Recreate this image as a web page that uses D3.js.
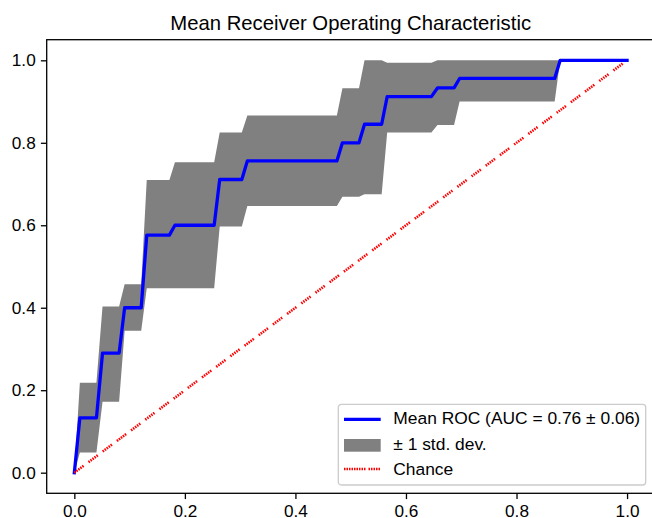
<!DOCTYPE html>
<html>
<head>
<meta charset="utf-8">
<script src="https://cdn.jsdelivr.net/npm/d3@7/dist/d3.min.js"></script>
<style>
  body { margin: 0; background: #fff; }
  svg text { font-family: "Liberation Sans", Arial, sans-serif; fill: #000; }
</style>
</head>
<body>
<div id="chart"></div>
<script>
// values (fpr grid breakpoints)
const fprPoints = [0, 0.010, 0.040, 0.051, 0.081, 0.091, 0.121, 0.131, 0.172, 0.182,
  0.253, 0.263, 0.303, 0.313, 0.475, 0.485, 0.515, 0.525, 0.556, 0.566,
  0.646, 0.657, 0.687, 0.697, 0.869, 0.879, 1.0];
const meanTpr = [0, 0.133, 0.133, 0.290, 0.290, 0.400, 0.400, 0.576, 0.576, 0.600,
  0.600, 0.711, 0.711, 0.756, 0.756, 0.800, 0.800, 0.845, 0.845, 0.912,
  0.912, 0.933, 0.933, 0.956, 0.956, 1.0, 1.0];
const upperTpr = [0, 0.218, 0.218, 0.403, 0.403, 0.457, 0.457, 0.710, 0.710, 0.753,
  0.753, 0.825, 0.825, 0.866, 0.866, 0.932, 0.932, 1.0, 1.0, 0.994,
  0.994, 1.0, 1.0, 1.0, 1.0, 1.0, 1.0];
const lowerTpr = [0, 0.049, 0.049, 0.172, 0.172, 0.344, 0.344, 0.447, 0.447, 0.447,
  0.447, 0.597, 0.597, 0.647, 0.647, 0.669, 0.669, 0.675, 0.675, 0.825,
  0.825, 0.843, 0.843, 0.900, 0.900, 1.0, 1.0];
const chanceX = [0, 1];
const chanceY = [0, 1];
const xTicks = [0, 0.2, 0.4, 0.6, 0.8, 1.0];
const yTicks = [0, 0.2, 0.4, 0.6, 0.8, 1.0];
const legendLabels = ["Mean ROC (AUC = 0.76 \u00b1 0.06)", "\u00b1 1 std. dev.", "Chance"];
const chartTitle = "Mean Receiver Operating Characteristic";

const margin = { top: 39.7, left: 46.7 };
const width = 608;
const height = 453.6;

const xScale = d3.scaleLinear().domain([-0.05, 1.05]).range([0, width]);
const yScale = d3.scaleLinear().domain([-0.05, 1.05]).range([height, 0]);

const svg = d3
  .select("#chart")
  .append("svg")
  .attr("width", 652)
  .attr("height", 518);

const g = svg
  .append("g")
  .attr("transform", "translate(" + margin.left + "," + margin.top + ")");

const meanData = fprPoints.map((x, i) => ({ x, y: meanTpr[i], lo: lowerTpr[i], hi: upperTpr[i] }));
const chanceData = chanceX.map((x, i) => ({ x, y: chanceY[i] }));

// std band

const area = d3
  .area()
  .x(d => xScale(d.x))
  .y0(d => yScale(d.lo))
  .y1(d => yScale(d.hi));

g.append("path")
  .datum(meanData)
  .attr("fill", "#808080")
  .attr("d", area);

// mean line

const line = d3
  .line()
  .x(d => xScale(d.x))
  .y(d => yScale(d.y));

g.append("path")
  .datum(meanData)
  .attr("fill", "none")
  .attr("stroke", "#0000ff")
  .attr("stroke-width", 3.3)
  .attr("stroke-linejoin", "round")
  .attr("stroke-linecap", "square")
  .attr("d", line);

// chance line

const chanceDash = "1.5,1,1.5,1,1.5,1,1.5,1,1.5,6.2";

g.append("path")
  .datum(chanceData)
  .attr("fill", "none")
  .attr("stroke", "#ff0000")
  .attr("stroke-width", 2.6)
  .attr("stroke-dasharray", chanceDash)
  .attr("d", line);

// axes

const xAxis = d3.axisBottom(xScale).tickValues(xTicks).tickFormat(d3.format(".1f")).tickSize(5.8).tickPadding(5.2);
const yAxis = d3.axisLeft(yScale).tickValues(yTicks).tickFormat(d3.format(".1f")).tickSize(5.8).tickPadding(5.2);

g.append("g")
  .attr("transform", "translate(0," + height + ")")
  .call(xAxis)
  .call(a => a.select(".domain").remove())
  .call(a => a.selectAll("line").attr("stroke", "#000").attr("stroke-width", 1.3))
  .call(a => a.selectAll("text").attr("font-size", 17.2).attr("font-family", null));

g.append("g")
  .call(yAxis)
  .call(a => a.select(".domain").remove())
  .call(a => a.selectAll("line").attr("stroke", "#000").attr("stroke-width", 1.3))
  .call(a => a.selectAll("text").attr("font-size", 17.2).attr("font-family", null));

// spines

g.append("rect")
  .attr("width", width)
  .attr("height", height)
  .attr("fill", "none")
  .attr("stroke", "#000")
  .attr("stroke-width", 1.3);

// title

svg.append("text")
  .attr("x", margin.left + width / 2)
  .attr("y", 29.8)
  .attr("text-anchor", "middle")
  .attr("font-size", 20.3)
  .text(chartTitle);

// legend

const legend = svg.append("g").attr("transform", "translate(338.3,404.3)");

legend.append("rect")
  .attr("width", 307.4)
  .attr("height", 80.7)
  .attr("rx", 3)
  .attr("fill", "#fff")
  .attr("fill-opacity", 0.8)
  .attr("stroke", "#cccccc")
  .attr("stroke-width", 1.3);

const rowY = [15, 41, 64.7];
const textY = [20, 45.7, 70.7];

legend.append("line")
  .attr("x1", 5.7).attr("x2", 42.4)
  .attr("y1", rowY[0]).attr("y2", rowY[0])
  .attr("stroke", "#0000ff")
  .attr("stroke-width", 3.3);

legend.append("rect")
  .attr("x", 5.7).attr("y", rowY[1] - 6.3)
  .attr("width", 36.7).attr("height", 12.7)
  .attr("fill", "#808080");

legend.append("line")
  .attr("x1", 5.7).attr("x2", 42.4)
  .attr("y1", rowY[2]).attr("y2", rowY[2])
  .attr("stroke", "#ff0000")
  .attr("stroke-width", 2.6)
  .attr("stroke-dasharray", "1.5,1,1.5,1,1.5,1,1.5,1,1.5,1,1.5,1,1.5,1,1.5,1,1.5,3");

legend.selectAll("text.label")
  .data(legendLabels)
  .enter()
  .append("text")
  .attr("class", "label")
  .attr("x", 55)
  .attr("y", (d, i) => textY[i])
  .attr("font-size", 17.4)
  .text(d => d);
</script>
</body>
</html>
